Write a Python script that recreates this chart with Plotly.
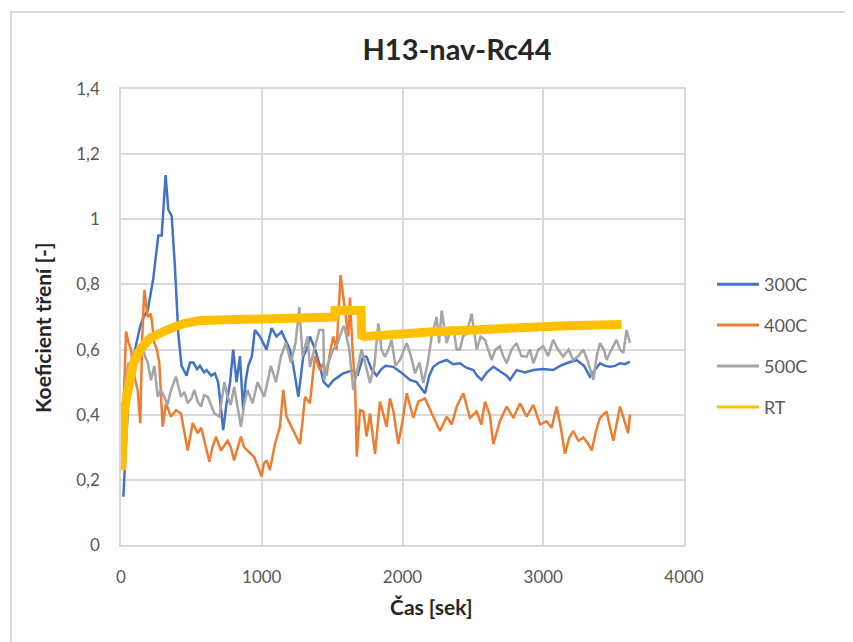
import plotly.graph_objects as go

# ---------------- data ----------------
series_names = ["300C", "400C", "500C", "RT"]
series_colors = ["#4472C4", "#ED7D31", "#A5A5A5", "#FFC000"]

t_300 = [17, 40, 70, 100, 135, 160, 190, 230, 265, 289, 317, 336, 360, 383, 407, 430, 466, 490, 514, 540,
         561, 590, 608, 640, 667, 690, 710, 726, 750, 775, 797, 821, 845, 868, 885, 904, 930, 951, 987, 1010,
         1034, 1070, 1105, 1141, 1176, 1200, 1224, 1260, 1295, 1320, 1342, 1380, 1413, 1440, 1473, 1508, 1556,
         1579, 1650, 1680, 1721, 1745, 1780, 1816, 1850, 1880, 1934, 1990, 2053, 2100, 2160, 2190, 2219, 2260,
         2314, 2360, 2408, 2450, 2503, 2530, 2562, 2600, 2645, 2700, 2740, 2764, 2811, 2870, 2930, 3000, 3070,
         3120, 3165, 3236, 3290, 3332, 3370, 3403, 3440, 3474, 3510, 3545, 3580, 3616]
v_300 = [0.148, 0.35, 0.55, 0.60, 0.67, 0.70, 0.72, 0.82, 0.95, 0.95, 1.136, 1.03, 1.01, 0.855, 0.65, 0.55,
         0.52, 0.56, 0.56, 0.54, 0.55, 0.53, 0.537, 0.52, 0.527, 0.50, 0.42, 0.353, 0.435, 0.50, 0.60, 0.50,
         0.58, 0.414, 0.50, 0.55, 0.58, 0.66, 0.64, 0.62, 0.60, 0.666, 0.64, 0.655, 0.62, 0.60, 0.55, 0.455,
         0.58, 0.60, 0.64, 0.60, 0.55, 0.50, 0.486, 0.505, 0.52, 0.527, 0.537, 0.52, 0.58, 0.578, 0.54, 0.52,
         0.54, 0.55, 0.547, 0.53, 0.507, 0.50, 0.466, 0.52, 0.547, 0.56, 0.568, 0.555, 0.558, 0.545, 0.537,
         0.52, 0.507, 0.53, 0.547, 0.53, 0.52, 0.507, 0.537, 0.53, 0.537, 0.54, 0.537, 0.55, 0.558, 0.568,
         0.55, 0.517, 0.54, 0.558, 0.55, 0.547, 0.55, 0.558, 0.555, 0.563]

t_400 = [17, 36, 55, 71, 95, 118, 137, 151, 166, 190, 213, 237, 255, 272, 296, 320, 355, 391, 426, 450, 474,
         509, 545, 570, 592, 628, 650, 675, 710, 757, 780, 804, 830, 852, 875, 899, 946, 982, 998, 1015, 1034,
         1058, 1094, 1129, 1153, 1176, 1212, 1247, 1271, 1290, 1307, 1342, 1360, 1378, 1413, 1437, 1460, 1484,
         1508, 1532, 1560, 1591, 1615, 1627, 1645, 1663, 1675, 1698, 1722, 1745, 1769, 1805, 1840, 1887, 1911,
         1934, 1970, 2000, 2030, 2077, 2112, 2160, 2190, 2219, 2266, 2314, 2350, 2385, 2432, 2479, 2527, 2560,
         2586, 2620, 2645, 2692, 2740, 2787, 2835, 2882, 2930, 2977, 3024, 3060, 3095, 3125, 3154, 3185, 3213,
         3250, 3285, 3320, 3344, 3375, 3403, 3450, 3475, 3498, 3545, 3575, 3604, 3616]
v_400 = [0.414, 0.655, 0.62, 0.60, 0.517, 0.476, 0.374, 0.64, 0.783, 0.70, 0.71, 0.62, 0.60, 0.56, 0.363,
         0.435, 0.394, 0.414, 0.404, 0.35, 0.29, 0.374, 0.343, 0.36, 0.32, 0.256, 0.30, 0.333, 0.29, 0.32, 0.30,
         0.26, 0.30, 0.333, 0.30, 0.29, 0.27, 0.23, 0.21, 0.25, 0.26, 0.23, 0.31, 0.363, 0.476, 0.394, 0.363,
         0.333, 0.31, 0.38, 0.455, 0.435, 0.50, 0.58, 0.537, 0.558, 0.52, 0.588, 0.64, 0.60, 0.829, 0.72, 0.64,
         0.76, 0.60, 0.497, 0.271, 0.414, 0.41, 0.333, 0.404, 0.28, 0.44, 0.363, 0.45, 0.414, 0.31, 0.38, 0.466,
         0.39, 0.44, 0.45, 0.42, 0.394, 0.35, 0.394, 0.37, 0.425, 0.466, 0.39, 0.41, 0.37, 0.44, 0.40, 0.31,
         0.38, 0.425, 0.39, 0.435, 0.394, 0.43, 0.37, 0.38, 0.36, 0.425, 0.36, 0.28, 0.33, 0.35, 0.32, 0.33,
         0.31, 0.29, 0.35, 0.39, 0.41, 0.36, 0.32, 0.425, 0.38, 0.343, 0.40]

t_500 = [17, 35, 52, 75, 95, 115, 135, 149, 170, 190, 213, 237, 261, 284, 308, 330, 355, 391, 426, 450, 474,
         500, 521, 545, 568, 590, 616, 640, 663, 699, 734, 757, 780, 804, 830, 852, 875, 899, 935, 970, 1018,
         1040, 1065, 1101, 1137, 1172, 1207, 1240, 1267, 1290, 1326, 1342, 1361, 1409, 1437, 1444, 1465, 1492,
         1508, 1539, 1579, 1587, 1622, 1650, 1670, 1709, 1740, 1769, 1800, 1828, 1850, 1875, 1900, 1922, 1950,
         1982, 2030, 2060, 2089, 2120, 2148, 2180, 2207, 2243, 2260, 2278, 2314, 2340, 2361, 2385, 2408, 2430,
         2456, 2491, 2527, 2555, 2586, 2610, 2633, 2660, 2692, 2715, 2740, 2775, 2811, 2845, 2882, 2905, 2930,
         2965, 3000, 3035, 3070, 3105, 3142, 3180, 3213, 3250, 3285, 3320, 3356, 3380, 3403, 3430, 3450, 3485,
         3521, 3545, 3569, 3592, 3616]
v_500 = [0.45, 0.50, 0.56, 0.52, 0.60, 0.56, 0.61, 0.62, 0.58, 0.56, 0.506, 0.55, 0.455, 0.476, 0.455, 0.43,
         0.476, 0.517, 0.455, 0.47, 0.435, 0.45, 0.476, 0.44, 0.425, 0.46, 0.455, 0.43, 0.404, 0.394, 0.50,
         0.455, 0.43, 0.486, 0.42, 0.363, 0.43, 0.476, 0.435, 0.50, 0.455, 0.50, 0.55, 0.50, 0.58, 0.62, 0.56,
         0.62, 0.73, 0.58, 0.64, 0.547, 0.58, 0.66, 0.66, 0.506, 0.55, 0.58, 0.60, 0.62, 0.67, 0.67, 0.60,
         0.476, 0.52, 0.60, 0.55, 0.497, 0.55, 0.68, 0.60, 0.578, 0.60, 0.63, 0.55, 0.568, 0.62, 0.58, 0.527,
         0.56, 0.497, 0.56, 0.64, 0.70, 0.62, 0.72, 0.62, 0.66, 0.67, 0.60, 0.60, 0.64, 0.65, 0.71, 0.60, 0.64,
         0.63, 0.60, 0.568, 0.60, 0.61, 0.58, 0.558, 0.60, 0.62, 0.58, 0.578, 0.60, 0.558, 0.60, 0.61, 0.58,
         0.63, 0.60, 0.578, 0.60, 0.568, 0.58, 0.60, 0.56, 0.507, 0.58, 0.62, 0.60, 0.568, 0.60, 0.63, 0.60,
         0.59, 0.66, 0.62]

t_rt = [5, 15, 24, 52, 88, 135, 206, 325, 444, 563, 681, 900, 1100, 1300, 1515, 1520, 1705, 1710, 1722,
        2219, 2692, 3165, 3557]
v_rt = [0.23, 0.33, 0.414, 0.48, 0.558, 0.60, 0.635, 0.66, 0.68, 0.689, 0.69, 0.693, 0.695, 0.697, 0.70,
        0.72, 0.72, 0.635, 0.64, 0.655, 0.666, 0.673, 0.677]

x_tickvals = [0, 1000, 2000, 3000, 4000]
x_ticktext = ["0", "1000", "2000", "3000", "4000"]
y_tickvals = [0, 0.2, 0.4, 0.6, 0.8, 1.0, 1.2, 1.4]
y_ticktext = ["0", "0,2", "0,4", "0,6", "0,8", "1", "1,2", "1,4"]

chart_title = "H13-nav-Rc44"
x_title = "Čas [sek]"
y_title = "Koeficient tření [-]"

# ---------------- figure ----------------
OFF = 8  # default body margin of the html page
W, H = 853 - OFF, 642 - OFF
L, R, T, B = 121 - OFF, 684 - OFF, 89 - OFF, 545 - OFF  # plot area in figure pixels


def px_x(p):
    # p is a pixel x in the reference screenshot
    return (p - OFF - L) / (R - L)


def px_y(p):
    return (B - (p - OFF)) / (B - T)


FONT = "Lato, 'Open Sans', 'Noto Sans', sans-serif"
GRID = "#D9D9D9"

fig = go.Figure()
data = [(t_300, v_300), (t_400, v_400), (t_500, v_500), (t_rt, v_rt)]
widths = [2.5, 2.5, 2.5, 9]
for (tx, vy), name, col, w in zip(data, series_names, series_colors, widths):
    fig.add_trace(go.Scatter(x=tx, y=vy, mode="lines", name=name, legendgroup=name,
                             showlegend=False, line=dict(color=col, width=w)))
# legend entries (thin lines as in the reference)
for name, col in zip(series_names, series_colors):
    fig.add_trace(go.Scatter(x=[None], y=[None], mode="lines", name=name, legendgroup=name,
                             showlegend=True, line=dict(color=col, width=3)))

fig.update_layout(
    width=W, height=H,
    margin=dict(l=L, r=W - R, t=T, b=H - B, pad=0),
    paper_bgcolor="white", plot_bgcolor="white",
    font=dict(family=FONT, size=17, color="#595959"),
    title=dict(text="<b>" + chart_title + "</b>", x=(457 - OFF) / W, xref="container", xanchor="center",
               y=1 - (50 - OFF) / H, yref="container", yanchor="middle",
               font=dict(family=FONT, size=29, color="#262626")),
    showlegend=True,
    legend=dict(x=px_x(712), xanchor="left", y=px_y(266), yanchor="top",
                traceorder="grouped", tracegroupgap=14.5, itemwidth=42,
                font=dict(family=FONT, size=18, color="#595959"),
                bgcolor="rgba(0,0,0,0)", borderwidth=0),
    xaxis=dict(range=[0, 4000], tickvals=x_tickvals, ticktext=x_ticktext,
               showgrid=True, gridcolor=GRID, gridwidth=1.5, zeroline=False,
               showline=True, linecolor=GRID, linewidth=1.5, mirror=True,
               ticks="", ticklabelstandoff=16, tickfont=dict(size=17, color="#595959")),
    yaxis=dict(range=[0, 1.4], tickvals=y_tickvals, ticktext=y_ticktext,
               showgrid=True, gridcolor=GRID, gridwidth=1.5, zeroline=False,
               showline=True, linecolor=GRID, linewidth=1.5, mirror=True,
               ticks="", ticklabelstandoff=16, tickfont=dict(size=17, color="#595959")),
    annotations=[
        dict(text="<b>" + x_title + "</b>", x=px_x(431), y=px_y(606), xref="paper", yref="paper",
             showarrow=False, xanchor="center", yanchor="middle",
             font=dict(family=FONT, size=21, color="#262626")),
        dict(text="<b>" + y_title + "</b>", x=px_x(42), y=px_y(328), xref="paper", yref="paper",
             showarrow=False, xanchor="center", yanchor="middle", textangle=-90,
             font=dict(family=FONT, size=21, color="#262626")),
    ],
    shapes=[
        dict(type="rect", xref="paper", yref="paper", x0=px_x(11), x1=px_x(900), y0=px_y(700), y1=px_y(12),
             line=dict(color=GRID, width=2), fillcolor="rgba(0,0,0,0)", layer="below"),
    ],
)

fig.write_html("out.html")
